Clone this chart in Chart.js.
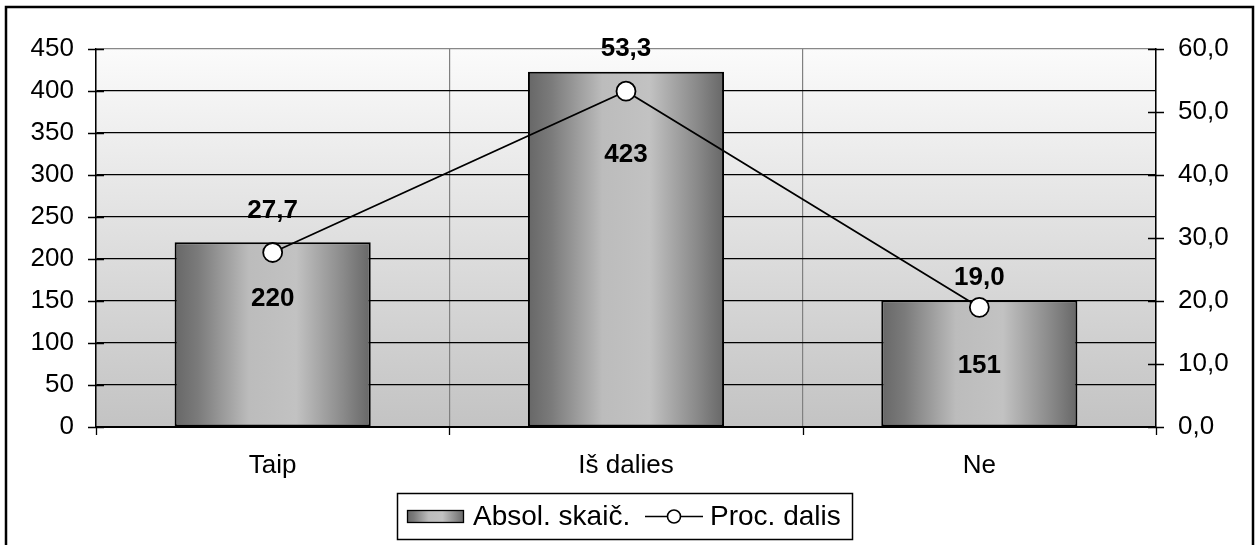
<!DOCTYPE html>
<html>
<head>
<meta charset="utf-8">
<script src="https://cdn.jsdelivr.net/npm/chart.js@4"></script>
<style>
html,body{margin:0;padding:0;background:#fff;}
canvas{display:block;}
</style>
</head>
<body>
<canvas id="c" width="1259" height="545"></canvas>
<script>
const categories = ['Taip', 'Iš dalies', 'Ne'];
const absValues = [220, 423, 151];
const pctValues = [27.7, 53.3, 19.0];
const seriesNames = ['Absol. skaič.', 'Proc. dalis'];
const leftAxis = { min: 0, max: 450, step: 50 };
const rightAxis = { min: 0, max: 60, step: 10 };

// label placement (style, pixels)
const barLabelOffsets = [57, 83, 66];
const lineLabelOffsets = [42, 42, 29];

const FONT = '"Liberation Sans", Arial, sans-serif';
const FS = 26;
const LEGEND_FS = 28;
const BAR_PCT = 0.555;

function barGradient(c, x0, x1) {
  const g = c.createLinearGradient(x0, 0, x1, 0);
  g.addColorStop(0, '#676767');
  g.addColorStop(0.12, '#7b7b7b');
  g.addColorStop(0.38, '#bcbcbc');
  g.addColorStop(0.62, '#c2c2c2');
  g.addColorStop(0.86, '#8a8a8a');
  g.addColorStop(1, '#676767');
  return g;
}

const decoPlugin = {
  id: 'deco',
  beforeDraw(chart) {
    const c = chart.ctx, a = chart.chartArea;
    c.save();
    c.fillStyle = '#fff';
    c.fillRect(0, 0, chart.width, chart.height);
    const g = c.createLinearGradient(0, a.top, 0, a.bottom);
    g.addColorStop(0, '#fbfbfb');
    g.addColorStop(1, '#c3c3c3');
    c.fillStyle = g;
    c.fillRect(a.left, a.top, a.right - a.left, a.bottom - a.top);
    c.restore();
  },
  afterDraw(chart) {
    const c = chart.ctx, a = chart.chartArea;
    const ys = chart.scales.y, y1 = chart.scales.y1;
    c.save();
    // outer frame
    c.strokeStyle = '#000';
    c.lineWidth = 2.5;
    c.strokeRect(6, 7, 1247, 600);
    // tick marks
    c.lineWidth = 1.3;
    c.strokeStyle = '#000';
    c.beginPath();
    ys.ticks.forEach(t => {
      const y = Math.round(ys.getPixelForValue(t.value)) + 0.5;
      c.moveTo(a.left - 8, y); c.lineTo(a.left + 8, y);
    });
    y1.ticks.forEach(t => {
      const y = Math.round(y1.getPixelForValue(t.value)) + 0.5;
      c.moveTo(a.right - 8, y); c.lineTo(a.right + 8, y);
    });
    const n = categories.length;
    for (let i = 0; i <= n; i++) {
      const x = Math.round(a.left + (a.right - a.left) * i / n) + 0.5;
      c.moveTo(x, a.bottom); c.lineTo(x, a.bottom + 8);
    }
    c.stroke();

    // data labels
    c.fillStyle = '#000';
    c.font = 'bold ' + FS + 'px ' + FONT;
    c.textAlign = 'center';
    c.textBaseline = 'middle';
    const barMeta = chart.getDatasetMeta(1);
    barMeta.data.forEach((el, i) => {
      c.fillText(String(absValues[i]), el.x, el.y + barLabelOffsets[i]);
    });
    const lineMeta = chart.getDatasetMeta(0);
    lineMeta.data.forEach((el, i) => {
      c.fillText(pctValues[i].toFixed(1).replace('.', ','), el.x, el.y - lineLabelOffsets[i]);
    });

    // legend
    const lx = 397, ly = 493, lw = 455, lh = 46;
    c.lineWidth = 1.5;
    c.strokeRect(lx + 0.5, ly + 0.5, lw, lh);
    const cy = ly + lh / 2;
    c.fillStyle = barGradient(c, 407, 464);
    c.fillRect(407, cy - 6, 57, 13);
    c.lineWidth = 1.3;
    c.strokeRect(407.5, cy - 5.5, 56, 12);
    c.fillStyle = '#000';
    c.font = LEGEND_FS + 'px ' + FONT;
    c.textAlign = 'left';
    c.textBaseline = 'middle';
    c.fillText(seriesNames[0], 473, cy + 1);
    c.lineWidth = 1.6;
    c.beginPath();
    c.moveTo(645, cy + 0.5); c.lineTo(703, cy + 0.5);
    c.stroke();
    c.beginPath();
    c.arc(674, cy + 0.5, 6.5, 0, Math.PI * 2);
    c.fillStyle = '#fff';
    c.fill();
    c.stroke();
    c.fillStyle = '#000';
    c.fillText(seriesNames[1], 710, cy + 1);
    c.restore();
  }
};

new Chart(document.getElementById('c'), {
  data: {
    labels: categories,
    datasets: [
      {
        type: 'line',
        label: seriesNames[1],
        data: pctValues,
        yAxisID: 'y1',
        order: 1,
        borderColor: '#000',
        borderWidth: 1.8,
        pointRadius: 9.5,
        pointBackgroundColor: '#fff',
        pointBorderColor: '#000',
        pointBorderWidth: 1.8,
        tension: 0
      },
      {
        type: 'bar',
        label: seriesNames[0],
        data: absValues,
        yAxisID: 'y',
        order: 2,
        categoryPercentage: 1,
        barPercentage: BAR_PCT,
        borderColor: '#000',
        borderWidth: 2,
        borderSkipped: false,
        backgroundColor(ctx) {
          const chart = ctx.chart;
          const a = chart.chartArea;
          if (ctx.dataIndex === undefined || !a || !chart.scales.x) return '#999';
          const cx = chart.scales.x.getPixelForValue(ctx.dataIndex);
          const w = (a.right - a.left) / categories.length * BAR_PCT;
          return barGradient(chart.ctx, cx - w / 2, cx + w / 2);
        }
      }
    ]
  },
  options: {
    responsive: false,
    animation: false,
    devicePixelRatio: 1,
    layout: { padding: { top: 49, left: 0, right: 0, bottom: 0 } },
    plugins: { legend: { display: false }, tooltip: { enabled: false } },
    scales: {
      x: {
        type: 'category',
        offset: true,
        grid: { display: true, offset: true, color: '#808080', lineWidth: 1.2, drawTicks: false },
        border: { display: true, color: '#000', width: 2 },
        ticks: { color: '#000', font: { family: FONT, size: FS }, padding: 23, maxRotation: 0 },
        afterFit(s) { s.height = 118; }
      },
      y: {
        position: 'left',
        min: leftAxis.min, max: leftAxis.max,
        ticks: { stepSize: leftAxis.step, color: '#000', font: { family: FONT, size: FS }, padding: 22 },
        grid: {
          drawTicks: false,
          color: (ctx) => ctx.tick && ctx.tick.value === leftAxis.max ? '#888' : '#000',
          lineWidth: 1.2
        },
        border: { display: true, color: '#000', width: 1.5 },
        afterFit(s) { s.width = 96; }
      },
      y1: {
        position: 'right',
        min: rightAxis.min, max: rightAxis.max,
        ticks: {
          stepSize: rightAxis.step, color: '#000', font: { family: FONT, size: FS }, padding: 22,
          callback: (v) => Number(v).toFixed(1).replace('.', ',')
        },
        grid: { display: false, drawTicks: false },
        border: { display: true, color: '#000', width: 1.5 },
        afterFit(s) { s.width = 103; }
      }
    }
  },
  plugins: [decoPlugin]
});
</script>
</body>
</html>
